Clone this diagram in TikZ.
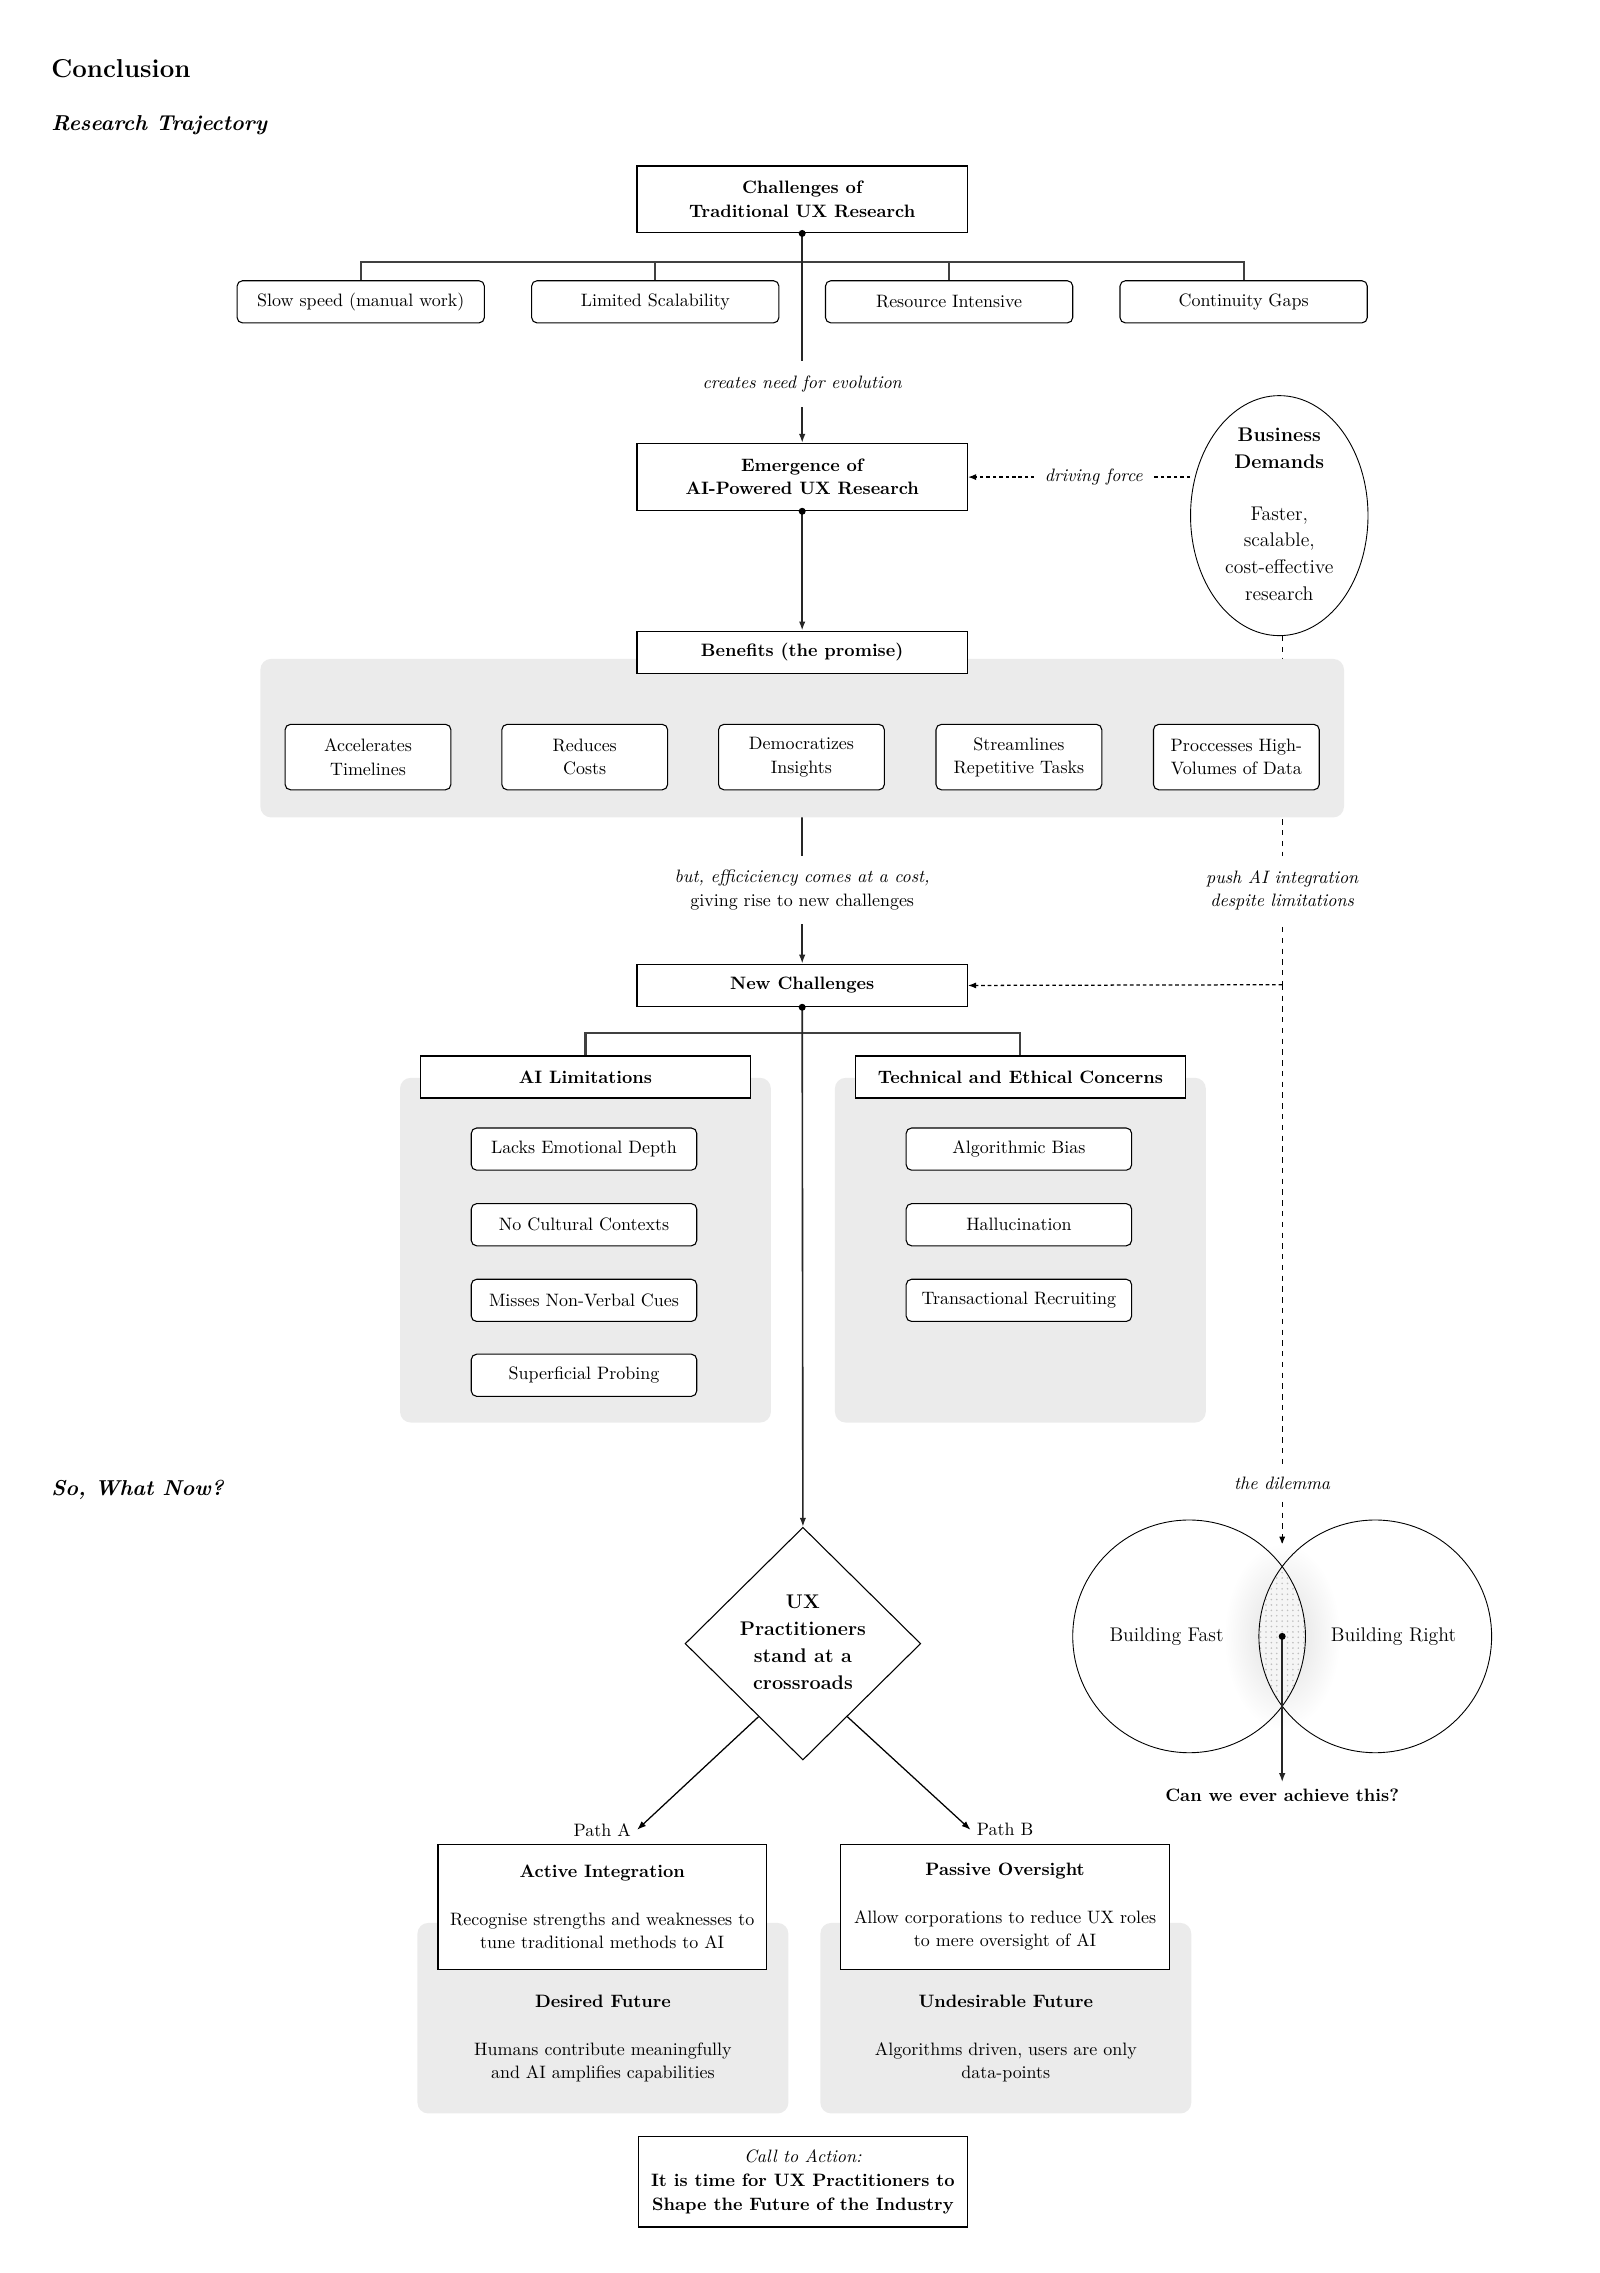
\documentclass[tikz,border=0pt]{standalone}
\usetikzlibrary{shapes.geometric, arrows.meta, calc, patterns}
\newcommand\PXU{0.81pt}
\pgfdeclarelayer{lines}
\pgfdeclarelayer{panels}
\pgfsetlayers{lines,panels,main}
\tikzset{
  box/.style={draw, line width=0.8pt, fill=white, align=center, inner sep=2pt, font=\fontsize{10}{13}\selectfont},
  bbox/.style={box, font=\fontsize{10}{13}\selectfont\bfseries},
  rbox/.style={box, rounded corners=3pt, line width=0.6pt},
  panel/.style={fill=black!8, rounded corners=6pt, inner sep=0pt},
  bus/.style={line width=1.2pt, draw=black!75},
  arr/.style={line width=0.9pt, draw=black!85, -{Latex[length=5pt,width=3.6pt]}},
  arrthin/.style={line width=0.7pt, draw=black, -{Latex[length=5pt,width=3.6pt]}},
  dline/.style={line width=0.6pt, dash pattern=on 3pt off 3pt},
  dlinedense/.style={line width=0.7pt, dash pattern=on 2pt off 1.6pt},
  darr/.style={dlinedense, -{Latex[length=4.5pt,width=3.4pt]}},
  labv/.style={fill=white, align=center, inner xsep=3pt, inner ysep=8pt, font=\fontsize{10}{13}\selectfont},
  labh/.style={fill=white, inner xsep=6pt, inner ysep=2pt, font=\itshape},
  dotr/.style={fill=black}
}
\begin{document}
\begin{tikzpicture}[x=0.81pt, y=-0.81pt]
\useasboundingbox (0,0) rectangle (1100,1562.7);

% headings
\node[anchor=west, inner sep=0, font=\Large\bfseries] (t1) at (35,47) {Conclusion};
\node[anchor=west, inner sep=0, font=\large\bfseries\itshape] (t2) at (35,86) {Research Trajectory};
\node[anchor=west, inner sep=0, font=\large\bfseries\itshape] (t3) at (35,1024) {So, What Now?};

% challenges of traditional
\node[bbox, minimum width=227*\PXU, minimum height=46*\PXU] (ch) at (551.5,137) {Challenges of\\Traditional UX Research};
\node[rbox, minimum width=170*\PXU, minimum height=29*\PXU] (c1) at (248,207.5) {Slow speed (manual work)};
\node[rbox, minimum width=170*\PXU, minimum height=29*\PXU] (c2) at (450.5,207.5) {Limited Scalability};
\node[rbox, minimum width=170*\PXU, minimum height=29*\PXU] (c3) at (652.5,207.5) {Resource Intensive};
\node[rbox, minimum width=170*\PXU, minimum height=29*\PXU] (c4) at (855,207.5) {Continuity Gaps};
\coordinate (busA) at (0,180);
\draw[bus] (c1.north) -- (c1.north |- busA) -- (c4.north |- busA) -- (c4.north);
\draw[bus] (c2.north) -- (c2.north |- busA);
\draw[bus] (c3.north) -- (c3.north |- busA);

% emergence
\node[bbox, minimum width=227*\PXU, minimum height=46*\PXU] (em) at (551.5,328) {Emergence of\\AI-Powered UX Research};
\draw[arr] (ch.south) -- (em.north);
\fill[dotr] (ch.south) circle[radius=2.4];
\node[labv, font=\itshape] (l1) at (551.5,264) {creates need for evolution};

% business demands
\node[ellipse, draw, line width=0.5pt, fill=white, minimum width=122*\PXU, minimum height=165*\PXU, inner sep=0] (bd) at (879.5,354.5) {};
\node[align=center, font=\fontsize{11}{14.8}\selectfont] (bdt) at (879.5,353.5) {\textbf{Business}\\\textbf{Demands}\\[14.2pt]Faster,\\scalable,\\cost-effective\\research};
\coordinate (dfS) at (em.east -| bd.west);
\draw[darr] (dfS) -- (em.east);
\node[labh] (l5) at (752,328) {driving force};

% benefits
\node[bbox, minimum width=227*\PXU, minimum height=29*\PXU] (bn) at (551.5,448.5) {Benefits (the promise)};
\draw[arr] (em.south) -- (bn.north);
\fill[dotr] (em.south) circle[radius=2.4];
\begin{pgfonlayer}{panels}
\node[panel, minimum width=745*\PXU, minimum height=109*\PXU] (bp) at (551.5,507.5) {};
\end{pgfonlayer}
\node[rbox, minimum width=114*\PXU, minimum height=45*\PXU] (b1) at (253,520.5) {Accelerates\\Timelines};
\node[rbox, minimum width=114*\PXU, minimum height=45*\PXU] (b2) at (402,520.5) {Reduces\\Costs};
\node[rbox, minimum width=114*\PXU, minimum height=45*\PXU] (b3) at (551,520.5) {Democratizes\\Insights};
\node[rbox, minimum width=114*\PXU, minimum height=45*\PXU] (b4) at (700.5,520.5) {Streamlines\\Repetitive Tasks};
\node[rbox, minimum width=114*\PXU, minimum height=45*\PXU] (b5) at (850,520.5) {Proccesses High-\\Volumes of Data};

% new challenges
\node[bbox, minimum width=227*\PXU, minimum height=29*\PXU] (nc) at (551.5,677.5) {New Challenges};
\coordinate (j) at (881.5,677);
\coordinate (vt) at (881.5,1062);
\begin{pgfonlayer}{lines}
\draw[arr] (bn.south) -- (nc.north);
\draw[dline] (bd.south -| j) -- (j);
\end{pgfonlayer}
\node[labv] (l2) at (551.5,612) {\textit{but, efficiciency comes at a cost,}\\giving rise to new challenges};
\node[labv, font=\fontsize{10}{13}\selectfont\itshape] (l3) at (881.5,612) {push AI integration\\despite limitations};
\draw[darr] (j) -- (nc.east);
\draw[dline, -{Latex[length=4.5pt,width=3.4pt]}] (j) -- (vt);
\node[labv, font=\itshape, inner ysep=6pt] (l4) at (881.5,1020) {the dilemma};

% two groups
\node[bbox, minimum width=227*\PXU, minimum height=29*\PXU] (al) at (402.5,740.5) {AI Limitations};
\node[bbox, minimum width=227*\PXU, minimum height=29*\PXU] (te) at (701.5,740.5) {Technical and Ethical Concerns};
\coordinate (busB) at (0,710);
\draw[bus] (al.north) -- (al.north |- busB) -- (te.north |- busB) -- (te.north);
\begin{pgfonlayer}{panels}
\node[panel, minimum width=255*\PXU, minimum height=237*\PXU] (pl) at (402.5,859.5) {};
\node[panel, minimum width=255*\PXU, minimum height=237*\PXU] (pr) at (701.5,859.5) {};
\end{pgfonlayer}
\node[rbox, minimum width=155*\PXU, minimum height=29*\PXU] (a1) at (401.5,790) {Lacks Emotional Depth};
\node[rbox, minimum width=155*\PXU, minimum height=29*\PXU] (a2) at (401.5,842) {No Cultural Contexts};
\node[rbox, minimum width=155*\PXU, minimum height=29*\PXU] (a3) at (401.5,894) {Misses Non-Verbal Cues};
\node[rbox, minimum width=155*\PXU, minimum height=29*\PXU] (a4) at (401.5,945.5) {Superficial Probing};
\node[rbox, minimum width=155*\PXU, minimum height=29*\PXU] (e1) at (700.5,790) {Algorithmic Bias};
\node[rbox, minimum width=155*\PXU, minimum height=29*\PXU] (e2) at (700.5,842) {Hallucination};
\node[rbox, minimum width=155*\PXU, minimum height=29*\PXU] (e3) at (700.5,894) {Transactional Recruiting};

% crossroads
\node[diamond, draw, line width=0.6pt, aspect=1, minimum width=162*\PXU, minimum height=160*\PXU, inner sep=0] (dm) at (552,1130) {};
\node[align=center, font=\fontsize{11}{15}\selectfont\bfseries] (dmt) at (552,1129) {UX\\Practitioners\\stand at a\\crossroads};
\draw[arr] (nc.south) -- (dm.north);
\fill[dotr] (nc.south) circle[radius=2.4];

% venn
\shade[inner color=black!13, outer color=white] (881.5,1125) ellipse[x radius=40, y radius=64];
\begin{scope}
\clip (817.5,1125) circle[radius=80];
\fill[black!4] (945.5,1125) circle[radius=80];
\fill[pattern=dots, pattern color=black!25] (945.5,1125) circle[radius=80];
\end{scope}
\node[circle, draw, line width=0.5pt, minimum size=160*\PXU, inner sep=0] (vf) at (817.5,1125) {};
\node[circle, draw, line width=0.5pt, minimum size=160*\PXU, inner sep=0] (vr) at (945.5,1125) {};
\node[font=\fontsize{11}{13}\selectfont] (bf) at (802,1125) {Building Fast};
\node[font=\fontsize{11}{13}\selectfont] (br) at (958,1125) {Building Right};
\coordinate (lc) at (881.5,1125);
\node[font=\bfseries] (q) at (881.5,1234) {Can we ever achieve this?};
\draw[arr] (lc) -- (q.north);
\fill[dotr] (lc) circle[radius=2.4];

% paths
\node (pa) at (414,1258) {Path A};
\node (pb) at (691,1258) {Path B};
\draw[arrthin] ($(dm.west)!0.625!(dm.south)$) -- (pa.east);
\draw[arrthin] ($(dm.east)!0.625!(dm.south)$) -- (pb.west);

\begin{pgfonlayer}{panels}
\node[panel, minimum width=255*\PXU, minimum height=131*\PXU] (pA) at (414.5,1387.5) {};
\node[panel, minimum width=255*\PXU, minimum height=131*\PXU] (pB) at (691.5,1387.5) {};
\end{pgfonlayer}
\node[box, minimum width=226*\PXU, minimum height=86*\PXU] (ai) at (414,1311) {\textbf{Active Integration}\\[13.7pt]Recognise strengths and weaknesses to\\tune traditional methods to AI};
\node[box, minimum width=226*\PXU, minimum height=86*\PXU] (po) at (691,1311) {\textbf{Passive Oversight}\\[13.7pt]Allow corporations to reduce UX roles\\to mere oversight of AI};
\node[align=center, font=\fontsize{10}{13}\selectfont] (fA) at (414.5,1401.5) {\textbf{Desired Future}\\[13.7pt]Humans contribute meaningfully\\and AI amplifies capabilities};
\node[align=center, font=\fontsize{10}{13}\selectfont] (fB) at (691.5,1401.5) {\textbf{Undesirable Future}\\[13.7pt]Algorithms driven, users are only\\data-points};

% call to action
\node[box, minimum width=226*\PXU, minimum height=62*\PXU, font=\fontsize{10}{13.4}\selectfont] (cta) at (552,1500) {\textit{Call to Action:}\\\textbf{It is time for UX Practitioners to}\\\textbf{Shape the Future of the Industry}};
\end{tikzpicture}
\end{document}
